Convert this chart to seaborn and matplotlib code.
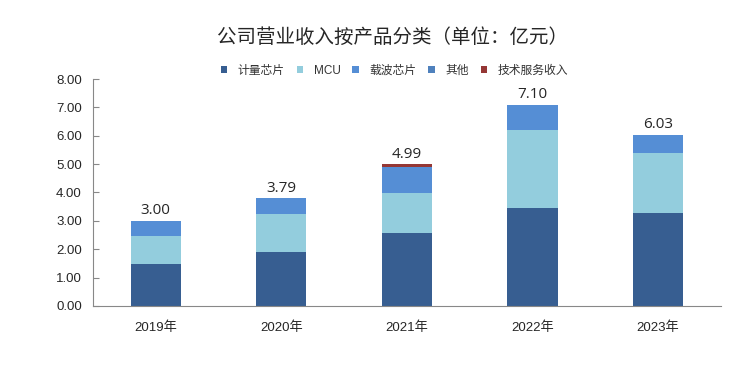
import numpy as np
import pandas as pd
import matplotlib
matplotlib.use("Agg")
import matplotlib.pyplot as plt
import seaborn as sns
from matplotlib.patches import Patch

# 数据（单位：亿元）
years = ["2019年", "2020年", "2021年", "2022年", "2023年"]
jiliang = [1.48, 1.92, 2.56, 3.46, 3.28]   # 计量芯片
mcu = [0.98, 1.32, 1.43, 2.75, 2.12]       # MCU
zaibo = [0.54, 0.55, 0.92, 0.89, 0.63]     # 载波芯片
qita = [0.0, 0.0, 0.0, 0.0, 0.0]           # 其他
jishu = [0.0, 0.0, 0.08, 0.0, 0.0]         # 技术服务收入
totals = [3.00, 3.79, 4.99, 7.10, 6.03]

series = ["计量芯片", "MCU", "载波芯片", "其他", "技术服务收入"]
colors = ["#375E91", "#93CDDD", "#558ED5", "#4F81BD", "#953735"]

sns.set_style("white")
plt.rcParams["font.family"] = ["Liberation Sans", "Noto Sans CJK SC", "DejaVu Sans"]

df = pd.DataFrame({"year": years, "计量芯片": jiliang, "MCU": mcu,
                   "载波芯片": zaibo, "其他": qita, "技术服务收入": jishu})

fig = plt.figure(figsize=(7.5, 3.78), dpi=100)
ax = fig.add_axes([0.124, 0.1905, 0.837, 0.6005])

# 叠加画累计值，从上往下
cum = df[series].cumsum(axis=1)
for name, c in reversed(list(zip(series, colors))):
    sns.barplot(x=df["year"], y=cum[name], color=c, width=0.4,
                saturation=1, ax=ax, linewidth=0)

for i, t in enumerate(totals):
    ax.text(i, t + 0.1, f"{t:.2f}", ha="center", va="bottom", fontsize=11,
            family=["Open Sans", "DejaVu Sans"])

ax.set_ylim(0, 8)
ax.set_xlim(-0.5, 4.5)
ax.set_yticks(np.arange(0, 8.01, 1))
ax.set_yticklabels([f"{v:.2f}" for v in np.arange(0, 8.01, 1)], fontsize=9.5)
ax.set_xlabel("")
ax.set_ylabel("")
ax.tick_params(axis="x", length=0, labelsize=9.5, pad=11)
ax.set_xticks(np.arange(-0.5, 4.6, 1), minor=True)
ax.tick_params(axis="x", which="minor", length=3, color="#888888", direction="in")
ax.tick_params(axis="y", length=4, color="#888888", direction="in", left=True, pad=8)
for s in ["top", "right"]:
    ax.spines[s].set_visible(False)
for s in ["left", "bottom"]:
    ax.spines[s].set_color("#888888")
    ax.spines[s].set_linewidth(0.8)

handles = [Patch(facecolor=c, edgecolor="none") for c in colors]
fig.legend(handles, series, loc="center", bbox_to_anchor=(0.526, 0.813), ncol=5,
           frameon=False, handlelength=0.55, handleheight=0.55,
           columnspacing=1.0, handletextpad=0.9, labelcolor="#333333",
           prop={"family": ["Liberation Sans", "Noto Sans CJK SC"], "size": 8.5})

fig.text(0.524, 0.9, "公司营业收入按产品分类（单位：亿元）", ha="center", va="center",
         fontsize=14, family=["Noto Sans CJK SC"])

fig.savefig("out.png", dpi=100)
